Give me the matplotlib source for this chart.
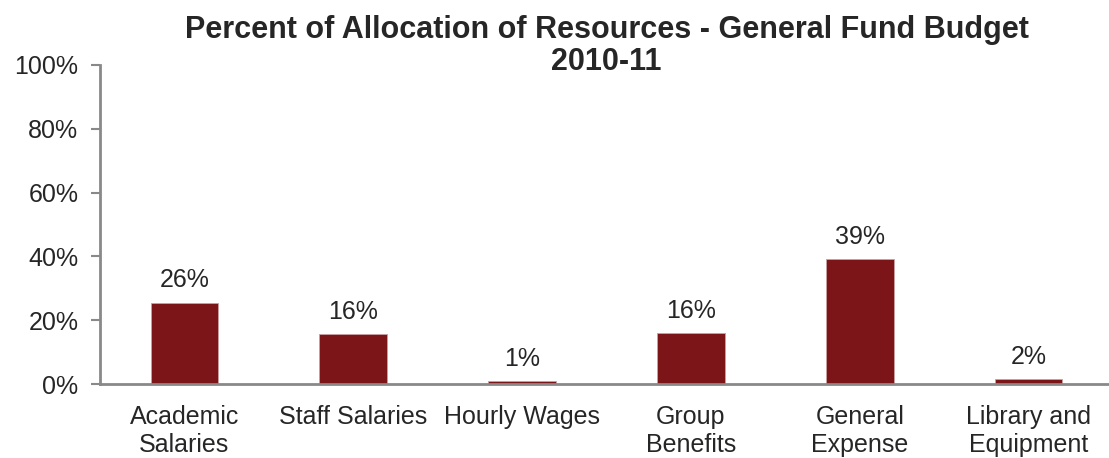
import matplotlib.pyplot as plt
from matplotlib.ticker import PercentFormatter

plt.rcParams['font.family'] = ['Liberation Sans', 'DejaVu Sans']

categories = ['Academic\nSalaries', 'Staff Salaries', 'Hourly Wages',
              'Group\nBenefits', 'General\nExpense', 'Library and\nEquipment']
values = [25.5, 15.6, 1.0, 15.9, 39.1, 1.6]
labels = ['26%', '16%', '1%', '16%', '39%', '2%']

bar_color = '#7b1518'
axis_color = '#898989'
text_color = '#262626'

fig = plt.figure(figsize=(11.09, 4.58), dpi=100)
# axes runs a bit past the right edge like in the original
ax = fig.add_axes([100 / 1109, (458 - 384) / 458, 1013 / 1109, 319 / 458])

x = range(len(categories))
ax.bar(x, values, width=0.4, color=bar_color, edgecolor='#c9a0a2', linewidth=0.6)

for xi, v, lab in zip(x, values, labels):
    ax.text(xi, v + 3.2, lab, ha='center', va='bottom', fontsize=18, color=text_color)

ax.set_xlim(-0.5, len(categories) - 0.5)
ax.set_ylim(0, 100)
ax.set_yticks([0, 20, 40, 60, 80, 100])
ax.yaxis.set_major_formatter(PercentFormatter(decimals=0))
ax.set_xticks(list(x))
ax.set_xticklabels(categories, fontsize=18, color=text_color, linespacing=1.2)
ax.tick_params(axis='x', length=0, pad=15)
ax.tick_params(axis='y', length=6.5, width=1.5, color=axis_color, labelsize=18,
               labelcolor=text_color, pad=9)

for side in ['top', 'right']:
    ax.spines[side].set_visible(False)
for side in ['left', 'bottom']:
    ax.spines[side].set_color(axis_color)
    ax.spines[side].set_linewidth(2)

# fixed y so the title sits a little into the plot area, as in the original
ax.set_title('Percent of Allocation of Resources - General Fund Budget\n2010-11',
             fontsize=22, fontweight='bold', color=text_color, y=1.0, pad=-3.5,
             linespacing=1.1)

fig.savefig('out.png', dpi=100)
